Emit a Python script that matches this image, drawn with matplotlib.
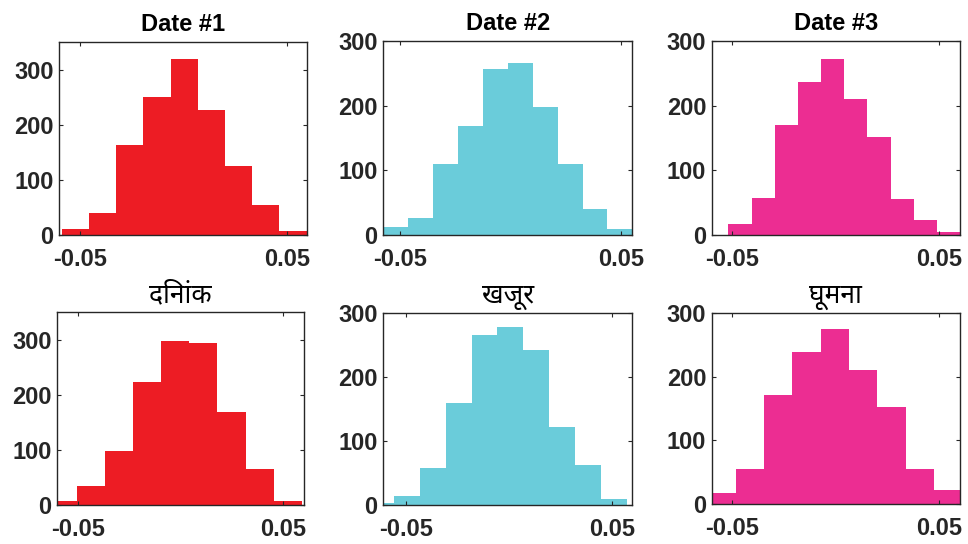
import numpy as np
import matplotlib.pyplot as plt

# histogram counts, one list per panel
titles = ["Date #1", "Date #2", "Date #3", "दिनांक", "खजूर", "घूमना"]

counts1 = [11, 40, 164, 250, 320, 227, 126, 55, 8]
counts2 = [12, 27, 110, 168, 257, 266, 198, 110, 40, 10]
counts3 = [17, 57, 170, 237, 272, 210, 152, 55, 23, 4]
counts4 = [7, 35, 98, 223, 298, 293, 169, 66, 7]
counts5 = [4, 15, 58, 160, 266, 277, 242, 122, 62, 10]
counts6 = [17, 56, 171, 238, 275, 211, 153, 55, 22]

# bin range (first and last edge) per panel
bin_ranges = [(-0.0588, 0.0595), (-0.0576, 0.0551), (-0.0519, 0.0600),
              (-0.0645, 0.0593), (-0.0683, 0.0570), (-0.0621, 0.0612)]
x_limits = [(-0.0601, 0.0595), (-0.0576, 0.0551), (-0.0600, 0.0600),
            (-0.0603, 0.0604), (-0.0610, 0.0597), (-0.0600, 0.0600)]
y_tops = [350, 300, 300, 350, 300, 300]

all_counts = [counts1, counts2, counts3, counts4, counts5, counts6]
colors = ["#ED1C24", "#6ACCDA", "#EC2D92", "#ED1C24", "#6ACCDA", "#EC2D92"]

# axes boxes in pixels: left, right, top, bottom
boxes = [(59, 306.7, 42, 235), (383.3, 632.3, 41, 235), (711.7, 960, 41, 235),
         (57.3, 304, 312, 505.3), (383.3, 632.3, 312.7, 505.3), (711.7, 960, 312.7, 504.3)]

W, H = 968, 544
fig = plt.figure(figsize=(W / 100, H / 100), dpi=100, facecolor="white")

latin = ["Liberation Sans", "DejaVu Sans"]
deva = ["Noto Sans Devanagari", "Lohit Devanagari", "FreeSans", "Noto Sans", "DejaVu Sans"]

for i in range(6):
    l, r, t, b = boxes[i]
    ax = fig.add_axes([l / W, 1 - b / H, (r - l) / W, (b - t) / H])
    counts = all_counts[i]
    lo, hi = bin_ranges[i]
    edges = np.linspace(lo, hi, len(counts) + 1)
    ax.stairs(counts, edges, fill=True, color=colors[i], linewidth=0)
    ax.set_xlim(*x_limits[i])
    ax.set_ylim(0, y_tops[i])
    ax.set_xticks([-0.05, 0.05])
    ax.set_xticklabels(["-0.05", "0.05"])
    ax.set_yticks([0, 100, 200, 300])
    for s in ax.spines.values():
        s.set_color("#262626")
        s.set_linewidth(1.0)
    ax.tick_params(direction="in", length=3, width=0.8, color="#262626",
                   top=True, right=True, labelsize=17, labelcolor="#262626")
    ax.tick_params(axis="x", pad=9)
    ax.tick_params(axis="y", pad=4)
    for lab in ax.get_xticklabels() + ax.get_yticklabels():
        lab.set_fontweight("bold")
        lab.set_family(latin)
    if i < 3:
        ax.set_title(titles[i], fontsize=17, fontweight="bold", pad=8, family=latin)
    else:
        ax.set_title(titles[i], fontsize=19, pad=7, family=deva)

fig.savefig("out.png", dpi=100)
